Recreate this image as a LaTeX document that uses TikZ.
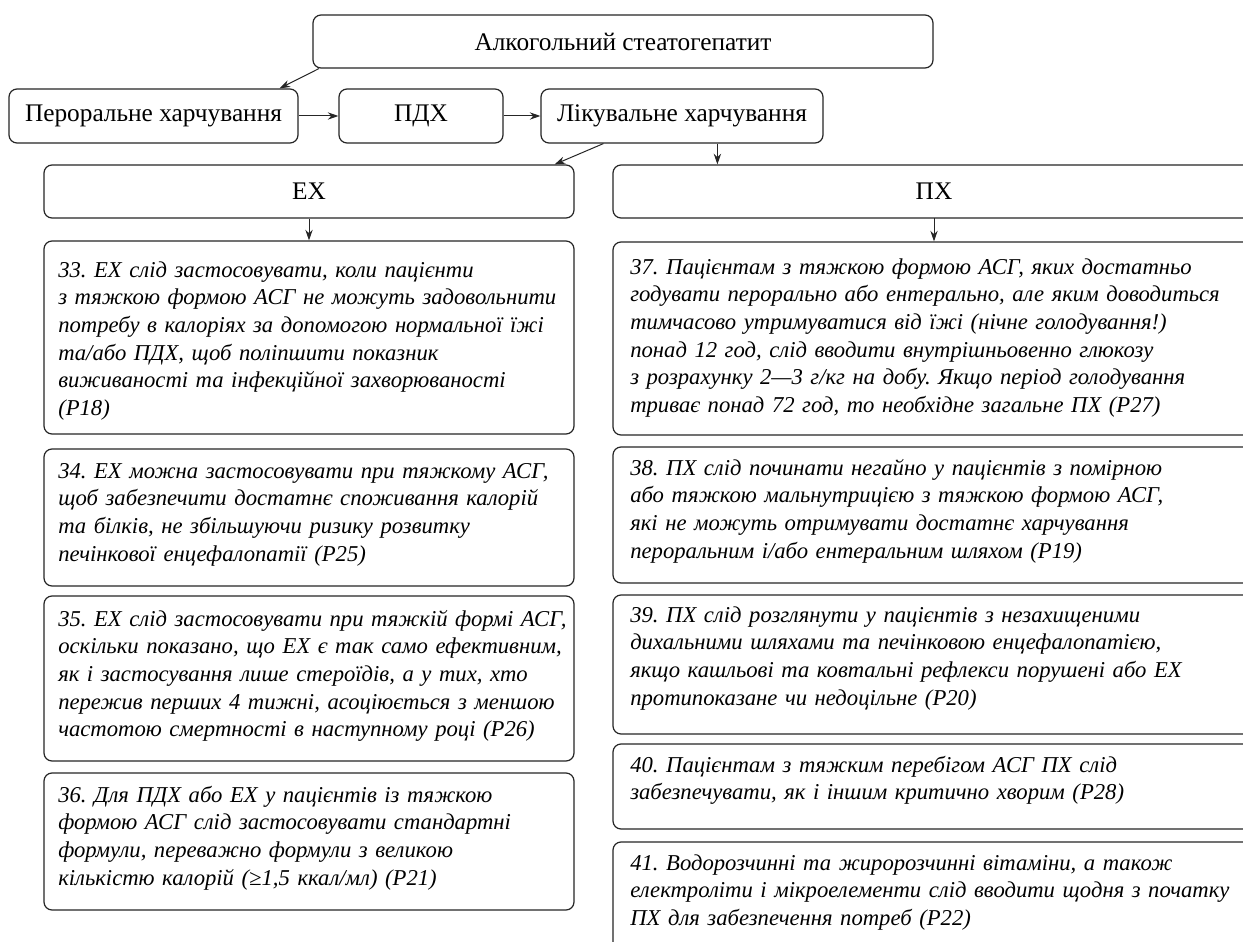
\documentclass[tikz,border=0pt]{standalone}
\usepackage{fontspec}
\setmainfont{Liberation Serif}
\usetikzlibrary{calc,arrows.meta,fit}
\begin{document}
\frenchspacing
\begin{tikzpicture}[x=0.75pt,y=-0.75pt,
  box/.style={draw=black!85, line width=0.9pt, rounded corners=6pt, inner sep=0pt},
  hdr/.style={font=\fontsize{19}{23}\selectfont, inner sep=0pt},
  body/.style={font=\fontsize{17}{20.8}\selectfont\itshape\frenchspacing, align=left, anchor=base west, inner sep=0pt, text width=640pt},
  arr/.style={-{Stealth[length=8pt,width=5.5pt]}, line width=0.75pt, draw=black!85}]
\useasboundingbox (0,0) rectangle (1243,942);
\clip (0,0) rectangle (1243,942);
\fill[white] (0,0) rectangle (1243,942);
% header row
\node[box, fit={(313,15) (933,68)}] (top) {};
\node[box, fit={(9,89) (298,143)}] (per) {};
\node[box, fit={(339,89) (503,143)}] (pdx) {};
\node[box, fit={(541,89) (823,143)}] (lik) {};
\node[box, fit={(44,165) (574,218)}] (ex) {};
\node[box, fit={(613,165) (1262,218)}] (px) {};
\node[hdr] (ttop) at (top.center) {Алкогольний стеатогепатит};
\node[hdr] (tper) at (per.center) {Пероральне харчування};
\node[hdr] (tpdx) at (pdx.center) {ПДХ};
\node[hdr] (tlik) at (lik.center) {Лікувальне харчування};
\node[hdr] (tex) at (ex.center) {ЕХ};
\node[hdr] (tpx) at (934,191.5) {ПХ};
% recommendation boxes
\node[box, fit={(44,241) (574,434)}] (b33) {};
\node[box, fit={(44,449) (574,586)}] (b34) {};
\node[box, fit={(44,596) (574,761)}] (b35) {};
\node[box, fit={(44,773) (574,910)}] (b36) {};
\node[box, fit={(613,242) (1262,435)}] (b37) {};
\node[box, fit={(613,447) (1262,583)}] (b38) {};
\node[box, fit={(613,595) (1262,734)}] (b39) {};
\node[box, fit={(613,744) (1262,829)}] (b40) {};
\node[box, fit={(613,842) (1262,990)}] (b41) {};
\node[body] (t33) at (58,277) {33. ЕХ слід застосовувати, коли пацієнти\\з тяжкою формою АСГ не можуть задовольнити\\потребу в калоріях за допомогою нормальної їжі\\та/або ПДХ, щоб поліпшити показник\\виживаності та інфекційної захворюваності\\(P18)};
\node[body] (t34) at (58,478) {34. ЕХ можна застосовувати при тяжкому АСГ,\\щоб забезпечити достатнє споживання калорій\\та білків, не збільшуючи ризику розвитку\\печінкової енцефалопатії (P25)};
\node[body] (t35) at (58,626) {35. ЕХ слід застосовувати при тяжкій формі АСГ,\\оскільки показано, що ЕХ є так само ефективним,\\як і застосування лише стероїдів, а у тих, хто\\пережив перших 4 тижні, асоціюється з меншою\\частотою смертності в наступному році (P26)};
\node[body] (t36) at (58,802) {36. Для ПДХ або ЕХ у пацієнтів із тяжкою\\формою АСГ слід застосовувати стандартні\\формули, переважно формули з великою\\кількістю калорій (≥1,5 ккал/мл) (P21)};
\node[body] (t37) at (630,274) {37. Пацієнтам з тяжкою формою АСГ, яких достатньо\\годувати перорально або ентерально, але яким доводиться\\тимчасово утримуватися від їжі (нічне голодування!)\\понад 12 год, слід вводити внутрішньовенно глюкозу\\з розрахунку 2—3 г/кг на добу. Якщо період голодування\\триває понад 72 год, то необхідне загальне ПХ (P27)};
\node[body] (t38) at (630,475) {38. ПХ слід починати негайно у пацієнтів з помірною\\або тяжкою мальнутрицією з тяжкою формою АСГ,\\які не можуть отримувати достатнє харчування\\пероральним і/або ентеральним шляхом (P19)};
\node[body] (t39) at (630,622) {39. ПХ слід розглянути у пацієнтів з незахищеними\\дихальними шляхами та печінковою енцефалопатією,\\якщо кашльові та ковтальні рефлекси порушені або ЕХ\\протипоказане чи недоцільне (P20)};
\node[body] (t40) at (630,772) {40. Пацієнтам з тяжким перебігом АСГ ПХ слід\\забезпечувати, як і іншим критично хворим (P28)};
\node[body] (t41) at (630,870) {41. Водорозчинні та жиророзчинні вітаміни, а також\\електроліти і мікроелементи слід вводити щодня з початку\\ПХ для забезпечення потреб (P22)};
% connectors
\draw[arr] ($(top.south west)+(6.5,0)$) -- ($(per.north east)+(-19,0)$);
\draw[arr] (per.east) -- (pdx.west);
\draw[arr] (pdx.east) -- (lik.west);
\draw[arr] ($(lik.south west)+(63,0)$) -- ($(ex.north east)+(-20,0)$);
\draw[arr] (lik.south -| px.north west) ++(105,0) coordinate (lpx) -- (lpx |- px.north);
\draw[arr] (ex.south) -- (ex.south |- b33.north);
\draw[arr] (934,218) coordinate (pxs) -- (pxs |- b37.north);
\end{tikzpicture}
\end{document}
